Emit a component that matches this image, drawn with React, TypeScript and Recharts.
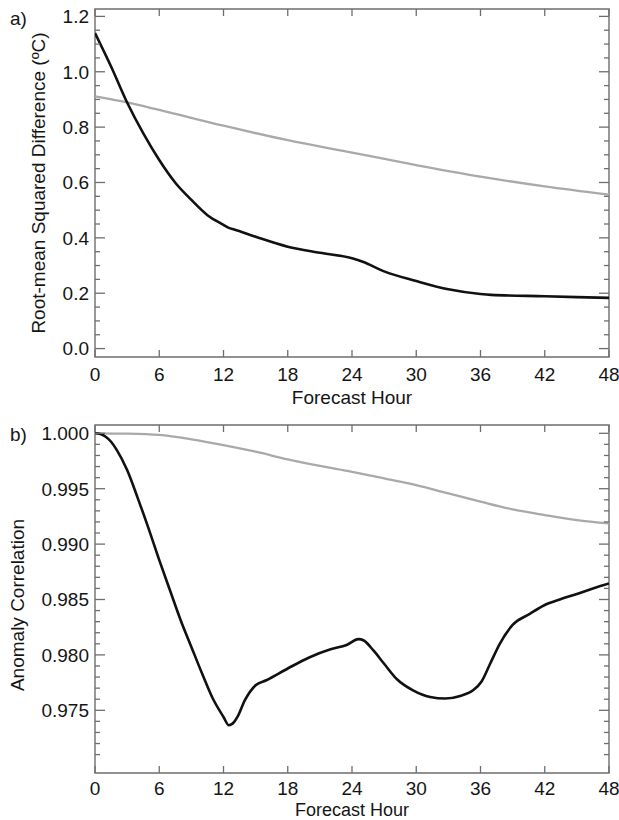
import React from 'react';
import { LineChart, Line, XAxis, YAxis, ReferenceArea } from 'recharts';

// ---------- data ----------
const hourTicks = [0, 6, 12, 18, 24, 30, 36, 42, 48];

const rmsdMajorTicks = [0.0, 0.2, 0.4, 0.6, 0.8, 1.0, 1.2];
const rmsdMinorTicks = [0.05, 0.1, 0.15, 0.25, 0.3, 0.35, 0.45, 0.5, 0.55, 0.65, 0.7, 0.75, 0.85, 0.9, 0.95, 1.05, 1.1, 1.15];

const acMajorTicks = [0.975, 0.98, 0.985, 0.99, 0.995, 1.0];
const acMinorTicks = [0.971, 0.972, 0.973, 0.974, 0.976, 0.977, 0.978, 0.979, 0.981, 0.982, 0.983, 0.984, 0.986, 0.987, 0.988, 0.989, 0.991, 0.992, 0.993, 0.994, 0.996, 0.997, 0.998, 0.999];

const rmsdBlackHours = [0, 1.5, 3, 4.5, 6, 7.5, 9, 10.5, 12, 12.5, 13, 15, 18, 21, 24, 25, 27, 30, 33, 36, 37, 42, 48];
const rmsdBlack = [1.14, 1.019, 0.889, 0.778, 0.681, 0.599, 0.537, 0.482, 0.447, 0.436, 0.43, 0.404, 0.368, 0.346, 0.326, 0.314, 0.279, 0.244, 0.214, 0.197, 0.194, 0.189, 0.183];

const rmsdGrayHours = [0, 3, 6, 12, 18, 24, 30, 36, 42, 48];
const rmsdGray = [0.911, 0.889, 0.862, 0.805, 0.753, 0.708, 0.663, 0.621, 0.586, 0.556];

const acBlackHours = [0, 0.5, 1, 1.5, 2, 3, 4, 5, 6, 7, 8, 9, 10, 11, 12, 12.5, 13, 13.3, 14, 15, 16, 18, 20, 22, 23.5, 24.6, 25.1, 26, 27, 28.2, 29.7, 31.3, 32.7, 34.1, 35.3, 36.1, 36.9, 37.8, 39, 40.6, 42, 43.4, 45, 46.5, 48];
const acBlack = [1.0, 0.99994, 0.99969, 0.99924, 0.99855, 0.99668, 0.99413, 0.99142, 0.98856, 0.98584, 0.98313, 0.98072, 0.97832, 0.97606, 0.9744, 0.97365, 0.97395, 0.9744, 0.97591, 0.97726, 0.97771, 0.97877, 0.97977, 0.9805, 0.9809, 0.98142, 0.9813, 0.9804, 0.9792, 0.9778, 0.9768, 0.9762, 0.97606, 0.9763, 0.9768, 0.9776, 0.9792, 0.981, 0.9827, 0.9837, 0.9845, 0.985, 0.9855, 0.986, 0.98645];

const acGrayHours = [0, 3, 6, 9, 12, 15, 18, 21, 24, 27, 30, 33, 36, 39, 42, 45, 48];
const acGray = [1.0, 0.99997, 0.99985, 0.99946, 0.99894, 0.99834, 0.99765, 0.99705, 0.99653, 0.99593, 0.99533, 0.99457, 0.99383, 0.99313, 0.99262, 0.99217, 0.99187];

// ---------- style ----------
const FONT = '"Liberation Sans", Arial, Helvetica, sans-serif';
const FRAME = '#6e6e6e';
const TEXT = '#151515';
const BLACK = '#111111';
const GRAY = '#a9a9a9';
const FS = 19;

const toRows = (hs: number[], vs: number[]) => hs.map((h, i) => ({ h, v: vs[i] }));

function makeYTick(left: number, right: number, majors: number[], digits: number) {
  return (p: any) => {
    const v = p.payload.value;
    const y = p.y;
    const major = majors.some((m) => Math.abs(m - v) < 1e-7);
    const len = major ? 10 : 5;
    return (
      <g>
        <line x1={left} x2={left + len} y1={y} y2={y} stroke={FRAME} strokeWidth={1.3} />
        <line x1={right - len} x2={right} y1={y} y2={y} stroke={FRAME} strokeWidth={1.3} />
        {major && (
          <text x={left - 6} y={y} dy="0.36em" textAnchor="end" fontSize={FS} fontFamily={FONT} fill={TEXT}>
            {v.toFixed(digits)}
          </text>
        )}
      </g>
    );
  };
}

function makeXTick(top: number, bottom: number, labelOffset: number) {
  return (p: any) => {
    const x = p.x;
    return (
      <g>
        <line x1={x} x2={x} y1={bottom} y2={bottom - 7} stroke={FRAME} strokeWidth={1.3} />
        <line x1={x} x2={x} y1={top} y2={top + 7} stroke={FRAME} strokeWidth={1.3} />
        <text x={x} y={bottom + labelOffset} dy="0.36em" textAnchor="middle" fontSize={FS} fontFamily={FONT} fill={TEXT}>
          {p.payload.value}
        </text>
      </g>
    );
  };
}

interface PanelProps {
  height: number;
  marginTop: number;
  xAxisHeight: number;
  domain: [number, number];
  majors: number[];
  minors: number[];
  digits: number;
  black: { h: number; v: number }[];
  gray: { h: number; v: number }[];
  labelOffset: number;
}

const LEFT = 95;
const RIGHT_M = 10;
const W = 619;

function Panel(props: PanelProps) {
  const { height, marginTop, xAxisHeight, domain, majors, minors, digits, black, gray, labelOffset } = props;
  const plotTop = marginTop;
  const plotBottom = height - xAxisHeight;
  const plotRight = W - RIGHT_M;
  const ticks = [...majors, ...minors].sort((a, b) => a - b);
  return (
    <LineChart width={W} height={height} margin={{ top: marginTop, right: RIGHT_M, left: 0, bottom: 0 }}>
      <XAxis
        dataKey="h"
        type="number"
        domain={[0, 48]}
        ticks={hourTicks}
        interval={0}
        height={xAxisHeight}
        axisLine={false}
        tickLine={false}
        allowDataOverflow
        tick={makeXTick(plotTop, plotBottom, labelOffset)}
      />
      <YAxis
        type="number"
        domain={domain}
        ticks={ticks}
        interval={0}
        width={LEFT}
        axisLine={false}
        tickLine={false}
        allowDataOverflow
        tick={makeYTick(LEFT, plotRight, majors, digits)}
      />
      <ReferenceArea
        x1={0}
        x2={48}
        y1={domain[0]}
        y2={domain[1]}
        fill="none"
        fillOpacity={0}
        stroke={FRAME}
        strokeWidth={1.4}
        ifOverflow="visible"
      />
      <Line data={gray} dataKey="v" type="monotone" stroke={GRAY} strokeWidth={2.3} dot={false} activeDot={false} isAnimationActive={false} />
      <Line data={black} dataKey="v" type="monotone" stroke={BLACK} strokeWidth={2.6} dot={false} activeDot={false} isAnimationActive={false} />
    </LineChart>
  );
}

export default function App() {
  return (
    <div style={{ position: 'absolute', left: 0, top: 0, width: 619, height: 820, background: '#fff', overflow: 'hidden' }}>
      <div style={{ position: 'absolute', left: 0, top: 0 }}>
        <Panel
          height={410}
          marginTop={9}
          xAxisHeight={53}
          domain={[-0.0304, 1.2267]}
          majors={rmsdMajorTicks}
          minors={rmsdMinorTicks}
          digits={1}
          black={toRows(rmsdBlackHours, rmsdBlack)}
          gray={toRows(rmsdGrayHours, rmsdGray)}
          labelOffset={17}
        />
      </div>
      <div style={{ position: 'absolute', left: 0, top: 412 }}>
        <Panel
          height={408}
          marginTop={13}
          xAxisHeight={47}
          domain={[0.96934, 1.00075]}
          majors={acMajorTicks}
          minors={acMinorTicks}
          digits={3}
          black={toRows(acBlackHours, acBlack)}
          gray={toRows(acGrayHours, acGray)}
          labelOffset={15}
        />
      </div>
      <svg width={619} height={820} style={{ position: 'absolute', left: 0, top: 0, pointerEvents: 'none' }}>
        <g fontFamily={FONT} fill={TEXT} fontSize={FS}>
          <text x={10} y={18} dy="0.36em">a)</text>
          <text x={10} y={434} dy="0.36em">b)</text>
          <text x={352} y={397} dy="0.36em" textAnchor="middle">Forecast Hour</text>
          <text x={352} y={809.5} dy="0.36em" textAnchor="middle" fontSize={18}>Forecast Hour</text>
          <text transform="translate(38,183) rotate(-90)" dy="0.36em" textAnchor="middle">Root-mean Squared Difference (ºC)</text>
          <text transform="translate(17,605) rotate(-90)" dy="0.36em" textAnchor="middle">Anomaly Correlation</text>
        </g>
      </svg>
    </div>
  );
}
